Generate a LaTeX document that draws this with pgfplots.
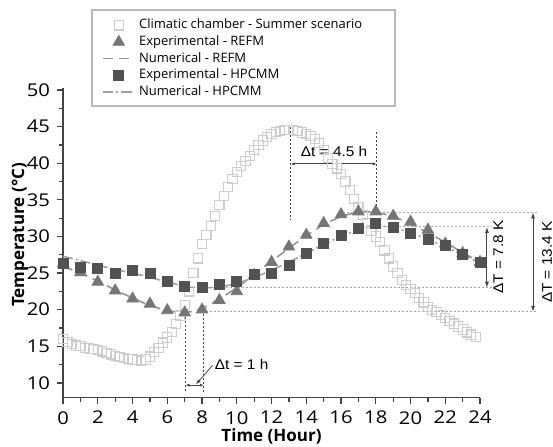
\documentclass[border=0pt]{standalone}
\usepackage{fontspec}
\setmainfont{Open Sans}
\newfontfamily\tickfont[FakeStretch=1.15]{Open Sans}
\newfontfamily\annfont[FakeStretch=1.1]{Liberation Sans}
\usepackage{pgfplots}
\usepackage{pgfplotstable}
\pgfplotsset{compat=1.18}
\usetikzlibrary{arrows.meta}
\definecolor{chamber}{HTML}{CDCDCD}
\definecolor{refm}{HTML}{767676}
\definecolor{hpc}{HTML}{525252}
\definecolor{axisgray}{HTML}{444444}
\definecolor{numref}{HTML}{959595}
\definecolor{numhpc}{HTML}{A0A0A0}

\pgfplotstableread{
h v
0 16.0
0.25 15.6
0.5 15.3
0.75 15.1
1 15.0
1.25 14.8
1.5 14.7
1.75 14.6
2 14.5
2.25 14.3
2.5 14.1
2.75 13.9
3 13.7
3.25 13.5
3.5 13.4
3.75 13.3
4 13.2
4.25 13.1
4.5 13.0
4.75 13.2
5 13.6
5.25 14.2
5.5 14.8
5.75 15.5
6 16.2
6.25 17.0
6.5 18.0
6.75 19.2
7 20.6
7.25 22.5
7.5 25.0
7.75 27.0
8 29.0
8.25 30.2
8.5 31.4
8.75 32.8
9 34.3
9.25 35.5
9.5 36.8
9.75 37.8
10 38.8
10.25 39.6
10.5 40.3
10.75 41.0
11 41.8
11.25 42.5
11.5 43.1
11.75 43.6
12 44.0
12.25 44.3
12.5 44.4
12.75 44.5
13 44.5
13.25 44.5
13.5 44.4
13.75 44.2
14 44.0
14.25 43.7
14.5 43.3
14.75 42.8
15 41.8
15.25 40.7
15.5 39.9
15.75 39.3
16 38.5
16.25 37.5
16.5 36.3
16.75 35.1
17 34.0
17.25 32.9
17.5 31.8
17.75 30.8
18 30.0
18.25 29.2
18.5 28.1
18.75 27.0
19 25.9
19.25 25.0
19.5 24.1
19.75 23.4
20 22.8
20.25 22.3
20.5 21.6
20.75 21.0
21 20.4
21.25 20.0
21.5 19.7
21.75 19.3
22 18.9
22.25 18.5
22.5 18.1
22.75 17.7
23 17.3
23.25 16.9
23.5 16.6
23.75 16.3
}\chamberdata

\pgfplotstableread{
h expref numref exphpc numhpc
0 26.3 25.9 26.3 27.3
1 25.1 25.0 25.8 26.7
2 23.8 23.9 25.7 26.1
3 22.6 22.7 24.9 25.5
4 21.5 21.6 25.3 25.0
5 20.8 20.6 25.0 24.4
6 19.9 19.9 23.9 23.8
7 19.6 19.6 23.2 23.2
8 20.0 20.2 23.1 23.0
9 21.3 21.5 23.5 23.1
10 22.5 23.0 23.8 23.6
11 24.7 24.8 24.8 24.4
12 26.5 26.6 24.9 25.4
13 28.6 28.4 26.1 26.5
14 30.2 30.1 27.7 27.7
15 31.8 31.6 29.0 28.9
16 33.0 32.7 30.2 30.0
17 33.4 33.3 31.1 30.9
18 33.4 33.3 31.8 31.4
19 32.8 32.7 31.3 31.2
20 32.0 31.7 30.4 30.5
21 30.9 30.5 29.6 29.6
22 29.0 29.2 28.8 28.6
23 27.7 27.8 27.5 27.5
24 26.5 26.5 26.5 26.4
}\mdata

\begin{document}
\begin{tikzpicture}
\begin{axis}[
  scale only axis, width=208.5pt, height=154.9pt,
  xmin=0, xmax=24, ymin=8, ymax=50.3,
  axis lines=left,
  axis line style={-, axisgray, line width=0.75pt},
  xtick={0,2,...,24}, ytick={10,15,...,50},
  minor x tick num=1, minor y tick num=1,
  tick align=outside, major tick length=3pt, minor tick length=2pt,
  every tick/.style={axisgray, line width=0.6pt},
  tick label style={font=\tickfont\fontsize{8.8}{10}\selectfont, text=black},
  xticklabel style={yshift=-0.3pt},
  /pgf/number format/assume math mode=true,
  xlabel={\bfseries Time (Hour)},
  ylabel={\bfseries Temperature (°C)},
  label style={font=\fontsize{8.5}{10}\selectfont},
  xlabel style={at={(axis description cs:0.5,-0.125)}, anchor=center},
  ylabel style={at={(axis description cs:-0.103,0.525)}, anchor=center},
  clip=false,
  legend style={at={(axis description cs:0.0696,1.251)}, anchor=north west,
    draw=none, fill=none, font=\fontsize{6.5}{7.5}\selectfont,
    inner xsep=5pt, inner ysep=4pt, row sep=1.3pt,
    nodes={inner sep=0.5pt, text height=4.7pt, text depth=1.3pt},
    /tikz/every odd column/.append style={column sep=1.5pt}},
  legend cell align=left,
  legend image code/.code={\draw[mark repeat=2,mark phase=2,#1] plot coordinates {(0pt,0pt) (7.75pt,0pt) (15.5pt,0pt)};},
]
\draw[gray!55, line width=0.8pt, fill=white] (axis cs:1.67,60.92) rectangle (axis cs:19.11,47.82);

\addplot[only marks, mark=square, mark size=2.3pt, chamber, mark options={line width=0.55pt}] table[x=h,y=v] {\chamberdata};
\addlegendentry{Climatic chamber - Summer scenario}
\addplot[only marks, mark=triangle*, mark size=3.3pt, refm] table[x=h,y=expref] {\mdata};
\addlegendentry{Experimental - REFM}
\addplot[smooth, no marks, numref, line width=0.8pt, dash pattern=on 5pt off 3pt] table[x=h,y=numref] {\mdata};
\addlegendentry{Numerical - REFM}
\addplot[only marks, mark=square*, mark size=2.5pt, hpc] table[x=h,y=exphpc] {\mdata};
\addlegendentry{Experimental - HPCMM}
\addplot[smooth, no marks, numhpc, line width=0.8pt, dash pattern=on 5pt off 1.5pt on 1pt off 1.5pt] table[x=h,y=numhpc] {\mdata};
\addlegendentry{Numerical - HPCMM}

% annotations
\draw[axisgray, line width=0.5pt, dash pattern=on 1pt off 1pt] (axis cs:7.05,19.6) -- (axis cs:7.05,8.8);
\draw[axisgray, line width=0.5pt, dash pattern=on 1pt off 1pt] (axis cs:8.1,20.0) -- (axis cs:8.1,8.8);
\draw[axisgray, line width=0.5pt, {Latex[length=2pt,width=1.6pt]}-{Latex[length=2pt,width=1.6pt]}] (axis cs:7.05,9.7) -- (axis cs:8.1,9.7);
\draw[axisgray, line width=0.4pt, -{Latex[length=2.5pt,width=1.8pt]}] (axis cs:8.6,12.4) -- (axis cs:7.65,9.8);
\node[anchor=west, inner sep=1pt, font=\annfont\fontsize{7}{8}\selectfont] at (axis cs:8.6,12.5) {Δt = 1 h};

\draw[axisgray, line width=0.5pt, dash pattern=on 1pt off 1pt] (axis cs:13.1,44.9) -- (axis cs:13.1,32.2);
\draw[axisgray, line width=0.5pt, dash pattern=on 1pt off 1pt] (axis cs:18.05,44.2) -- (axis cs:18.05,33.4);
\draw[axisgray, line width=0.5pt, {Latex[length=2pt,width=1.6pt]}-{Latex[length=2pt,width=1.6pt]}] (axis cs:13.1,39.9) -- (axis cs:18.05,39.9);
\node[font=\annfont\fontsize{7}{8}\selectfont] at (axis cs:15.6,41.6) {Δt = 4.5 h};

\draw[gray!70, line width=0.5pt, dash pattern=on 1pt off 1pt] (axis cs:16.1,33.3) -- (axis cs:27.3,33.3);
\draw[gray!70, line width=0.5pt, dash pattern=on 1pt off 1pt] (axis cs:18.2,31.3) -- (axis cs:24.7,31.3);
\draw[gray!70, line width=0.5pt, dash pattern=on 1pt off 1pt] (axis cs:8.2,23.0) -- (axis cs:24.7,23.0);
\draw[gray!70, line width=0.5pt, dash pattern=on 1pt off 1pt] (axis cs:8.2,19.7) -- (axis cs:27.3,19.7);
\draw[axisgray, line width=0.5pt, {Latex[length=3pt,width=2pt]}-{Latex[length=3pt,width=2pt]}] (axis cs:24.4,31.3) -- (axis cs:24.4,23.0);
\draw[axisgray, line width=0.5pt, {Latex[length=3pt,width=2pt]}-{Latex[length=3pt,width=2pt]}] (axis cs:27.05,33.3) -- (axis cs:27.05,19.7);
\node[rotate=90, font=\annfont\fontsize{7}{8}\selectfont] at (axis cs:25.05,27.2) {ΔT = 7.8 K};
\node[rotate=90, font=\annfont\fontsize{7}{8}\selectfont] at (axis cs:27.86,26.5) {ΔT = 13.4 K};

\coordinate (bbA) at (axis cs:-3.63,1.26);
\coordinate (bbB) at (axis cs:28.2,62.29);
\end{axis}
\pgfresetboundingbox
\path[use as bounding box] (bbA) rectangle (bbB);
\end{tikzpicture}
\end{document}
